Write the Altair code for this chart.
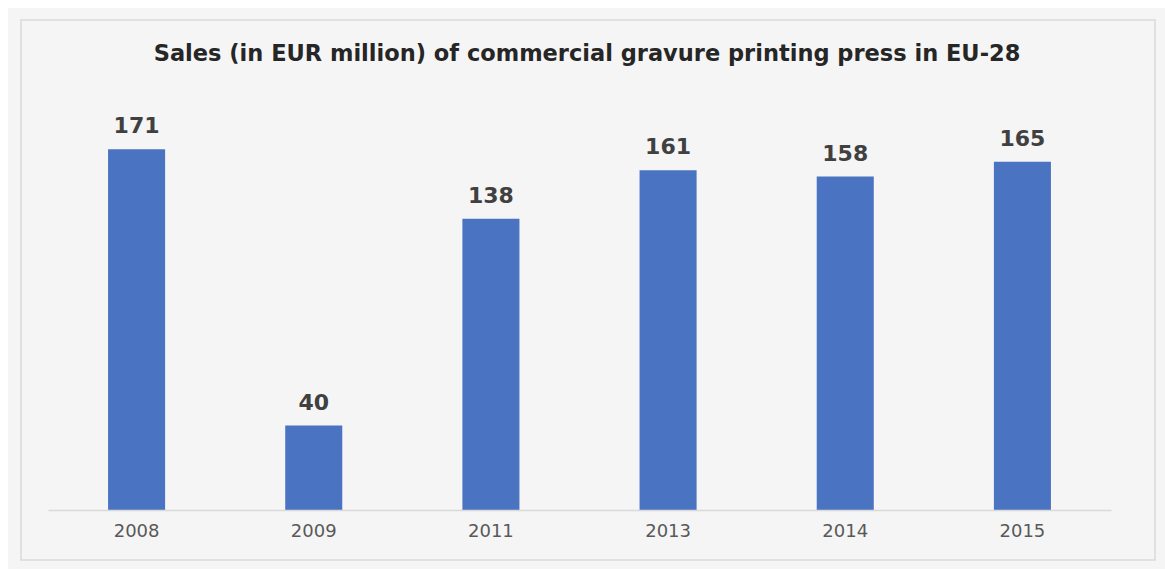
import altair as alt
import pandas as pd

title_text = "Sales (in EUR million) of commercial gravure printing press in EU-28"
years = ["2008", "2009", "2011", "2013", "2014", "2015"]
sales = [171, 40, 138, 161, 158, 165]

df = pd.DataFrame({"year": years, "sales": sales})

W, H = 1063, 422
PAD_L, PAD_T = 48, 88

base = alt.Chart(df)

bars = base.mark_bar(color="#4a74c2").encode(
    x=alt.X("year:N", sort=years,
            scale=alt.Scale(paddingInner=0.678, paddingOuter=0.339),
            axis=alt.Axis(title=None, labelAngle=0, ticks=False, zindex=1,
                          domainColor="#d9d9d9", domainWidth=1.5,
                          labelColor="#595959", labelFont="DejaVu Sans",
                          labelFontSize=18, labelPadding=12)),
    y=alt.Y("sales:Q", scale=alt.Scale(domain=[0, 200]), axis=None),
)

labels = base.mark_text(font="DejaVu Sans", fontWeight="bold", fontSize=22,
                        color="#404040", baseline="alphabetic", dy=-16).encode(
    x=alt.X("year:N", sort=years),
    y=alt.Y("sales:Q"),
    text=alt.Text("sales:Q"),
)

one = alt.Data(values=[{"t": title_text}])
outer = alt.Chart(one).mark_rect(fill="#f5f5f5").encode(
    x=alt.value(8 - PAD_L), x2=alt.value(1165 - PAD_L),
    y=alt.value(8 - PAD_T), y2=alt.value(569 - PAD_T),
)
frame = alt.Chart(one).mark_rect(fill="#f5f5f5", stroke="#d9d9d9", strokeWidth=1.5).encode(
    x=alt.value(21 - PAD_L), x2=alt.value(1155 - PAD_L),
    y=alt.value(20 - PAD_T), y2=alt.value(560 - PAD_T),
)
title = alt.Chart(one).mark_text(
    font="DejaVu Sans", fontSize=22.5, fontWeight="bold", color="#262626",
    align="center", baseline="alphabetic",
).encode(
    x=alt.value(587 - PAD_L), y=alt.value(61 - PAD_T), text="t:N",
)

chart = alt.layer(outer, frame, bars, labels, title).properties(
    width=W, height=H,
    autosize=alt.AutoSizeParams(type="none"),
    padding={"left": PAD_L, "top": PAD_T, "right": 1165 - PAD_L - W, "bottom": 569 - PAD_T - H},
).configure(background="#ffffff").configure_view(stroke=None)

chart.save("out.html", embed_options={"renderer": "svg", "actions": False})
